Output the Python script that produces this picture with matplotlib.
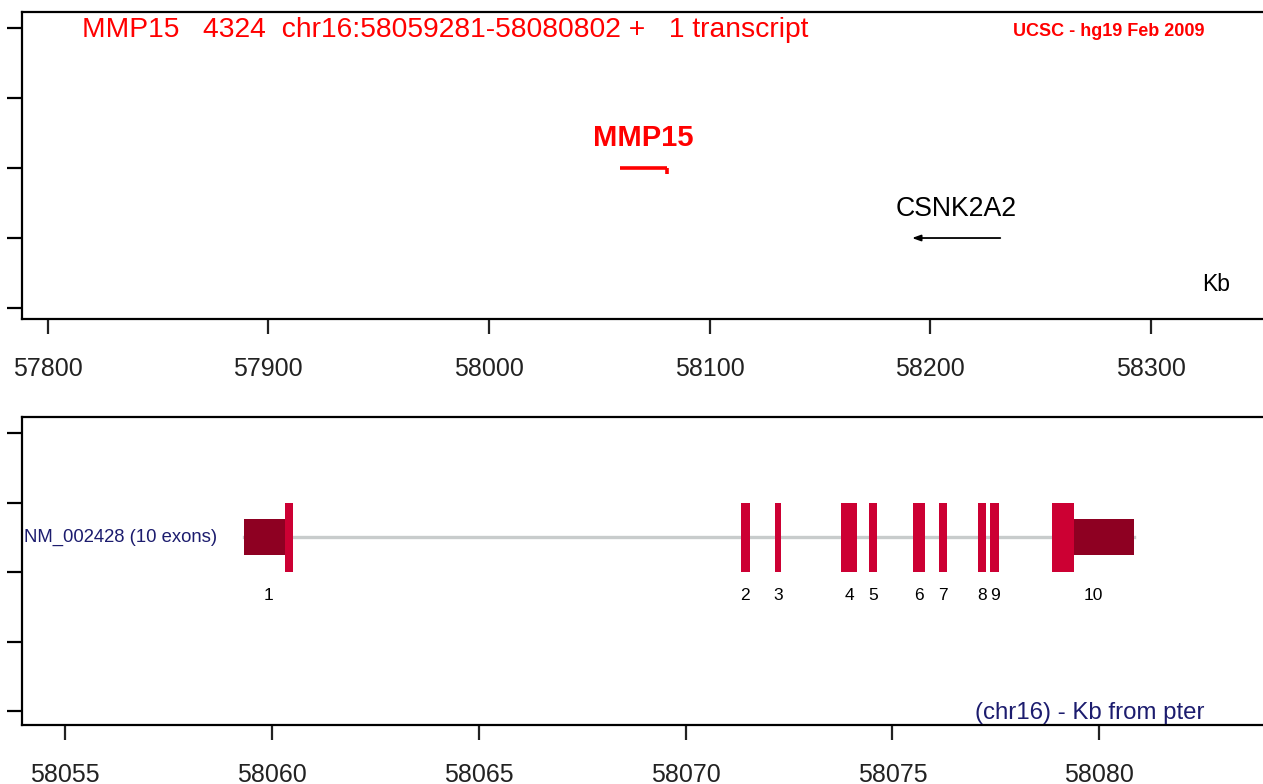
import matplotlib
matplotlib.use("Agg")
import matplotlib.pyplot as plt
import numpy as np

plt.rcParams['font.family'] = ['Liberation Sans', 'DejaVu Sans']

# ---------------- data ----------------
title_text = "MMP15   4324  chr16:58059281-58080802 +   1 transcript"
source_text = "UCSC - hg19 Feb 2009"

# top panel: genes in region (kb)
genes = ["MMP15", "CSNK2A2"]
gene_start = [58059.281, 58191.8]
gene_end = [58080.802, 58231.8]
gene_strand = ["+", "-"]
gene_row = [2, 3]
gene_color = ["#ff0000", "#000000"]

top_ticks = [57800, 57900, 58000, 58100, 58200, 58300]
top_xlim = (57788.35, 58350.9)

# bottom panel: transcript exons (kb)
transcript_label = "NM_002428 (10 exons)"
exon_numbers = ["1", "2", "3", "4", "5", "6", "7", "8", "9", "10"]
exon_start = [58059.33, 58071.33, 58072.16, 58073.76, 58074.44, 58075.49,
              58076.12, 58077.08, 58077.37, 58078.86]
exon_end = [58060.50, 58071.55, 58072.32, 58074.15, 58074.64, 58075.79,
            58076.32, 58077.27, 58077.57, 58080.84]
cds_start = 58060.31
cds_end = 58079.38

bottom_ticks = [58055, 58060, 58065, 58070, 58075, 58080]
bottom_xlim = (58053.96, 58083.96)

# ---------------- figure ----------------
W, H = 1263, 784
fig = plt.figure(figsize=(W / 100, H / 100), dpi=100)

def px_axes(x0, y_top, x1, y_bot):
    return fig.add_axes([x0 / W, 1 - y_bot / H, (x1 - x0) / W, (y_bot - y_top) / H])

ax1 = px_axes(22, 12, 1263, 319)
ax2 = px_axes(22, 417, 1263, 725)

def style(ax, xlim, ylim, xticks):
    ax.set_xlim(*xlim)
    ax.set_ylim(*ylim)
    ax.set_xticks(xticks)
    ax.set_xticklabels([str(t) for t in xticks], fontsize=18)
    ax.set_yticks([0, 1, 2, 3, 4])
    ax.set_yticklabels([])
    ax.spines['right'].set_visible(False)
    for s in ['left', 'top', 'bottom']:
        ax.spines[s].set_linewidth(1.6)
    ax.tick_params(axis='x', direction='out', length=11, width=1.6, pad=16, colors='#222222')
    ax.tick_params(axis='y', direction='out', length=11, width=1.6)

style(ax1, top_xlim, (4.157, -0.229), top_ticks)
style(ax2, bottom_xlim, (4.2, -0.23), bottom_ticks)

# ---------- top panel ----------
ax1.text(0.0483, 0.941, title_text, transform=ax1.transAxes, color='#ff0000',
         fontsize=20.3, ha='left', va='center')
ax1.text(0.9525, 0.938, source_text, transform=ax1.transAxes, color='#ff0000',
         fontsize=13, fontweight='bold', ha='right', va='center')
ax1.text(0.951, 0.114, "Kb", transform=ax1.transAxes, color='black',
         fontsize=16.5, ha='left', va='center')

for name, s, e, strand, row, col in zip(genes, gene_start, gene_end, gene_strand, gene_row, gene_color):
    mid = (s + e) / 2
    if strand == "+":
        ax1.plot([s, e], [row, row], color=col, lw=2.6, solid_capstyle='butt')
        ax1.plot([e, e], [row, row + 0.08], color=col, lw=2.6, solid_capstyle='butt')
        ax1.text(mid, row - 0.43, name, color=col, fontsize=21, fontweight='bold',
                 ha='center', va='center')
    else:
        ax1.annotate("", xy=(s, row), xytext=(e, row),
                     arrowprops=dict(arrowstyle="-|>,head_length=0.5,head_width=0.18",
                                     color=col, lw=1.3, shrinkA=0, shrinkB=0))
        ax1.text(mid, row - 0.42, name, color=col, fontsize=19.2,
                 ha='center', va='center')

# ---------- bottom panel ----------
row = 1.5
ax2.plot([exon_start[0], exon_end[-1]], [row, row], color='#c8cccc', lw=2.4, zorder=1)
tall_h = 0.5
utr_h = 0.26
cds_col = '#cc0033'
utr_col = '#8e0022'
for num, s, e in zip(exon_numbers, exon_start, exon_end):
    if s < cds_start:
        ue = min(e, cds_start)
        ax2.fill_between([s, ue], row - utr_h, row + utr_h, color=utr_col, lw=0, zorder=2)
    if e > cds_end:
        us = max(s, cds_end)
        ax2.fill_between([us, e], row - utr_h, row + utr_h, color=utr_col, lw=0, zorder=2)
    cs, ce = max(s, cds_start), min(e, cds_end)
    if ce > cs:
        ax2.fill_between([cs, ce], row - tall_h, row + tall_h, color=cds_col, lw=0, zorder=3)
    ax2.text((s + e) / 2, 2.34, num, fontsize=12.5, ha='center', va='center', color='black')

ax2.text(0.002, row, transcript_label, transform=ax2.get_yaxis_transform(),
         color='#1c1c6e', fontsize=13.3, ha='left', va='center')
ax2.text(0.953, 0.039, "(chr16) - Kb from pter", transform=ax2.transAxes,
         color='#1c1c6e', fontsize=17.3, ha='right', va='center')

fig.savefig("out.png", dpi=100)
